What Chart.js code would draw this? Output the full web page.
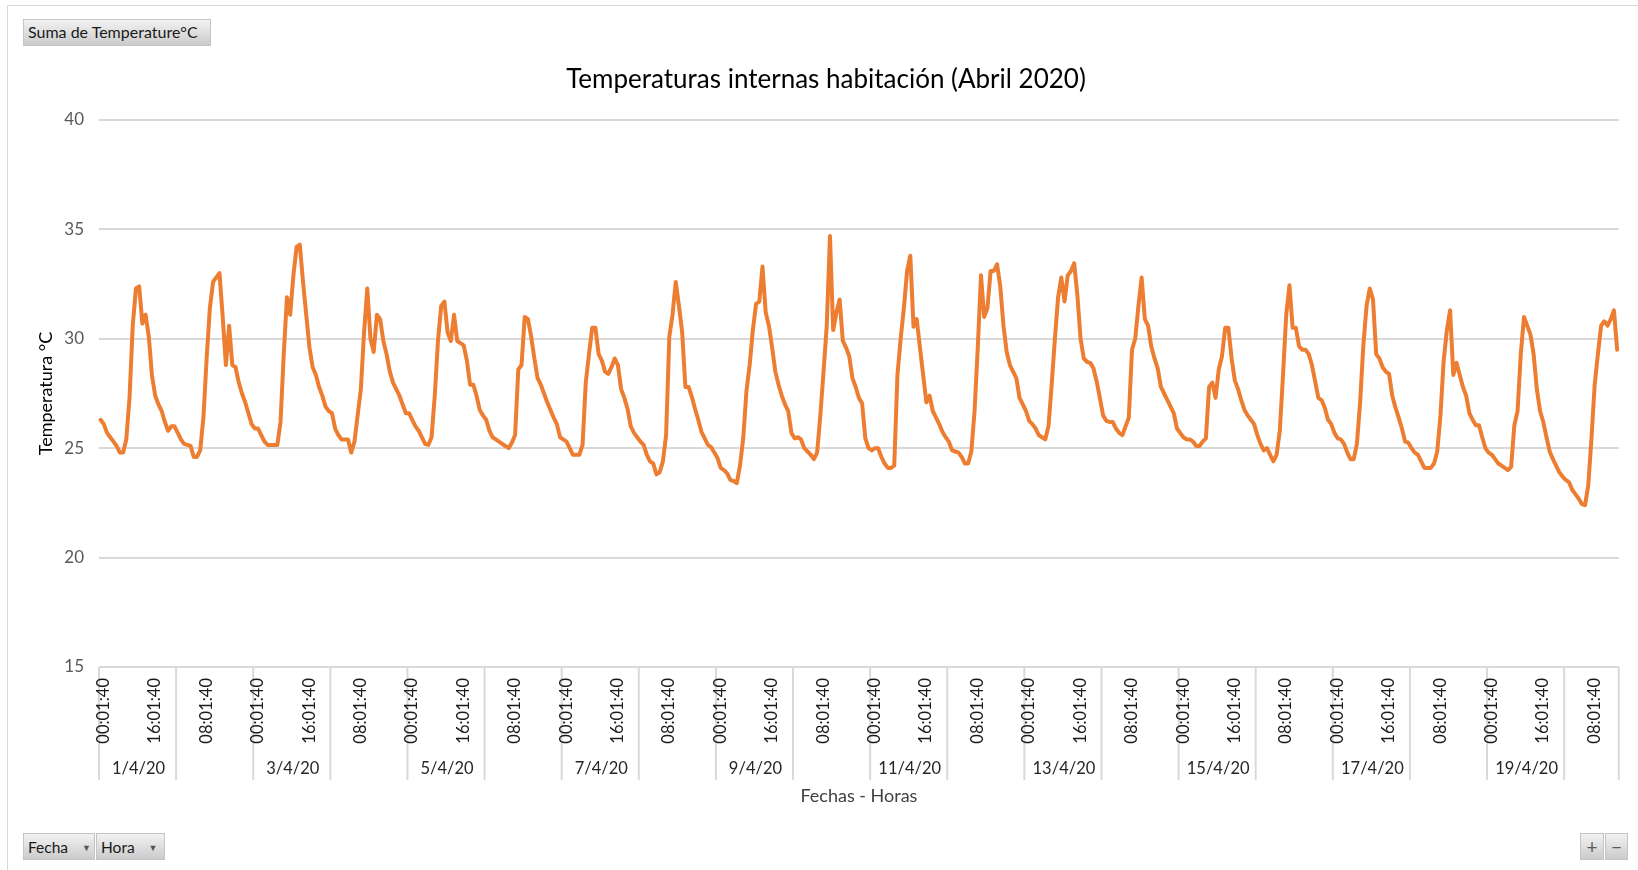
<!DOCTYPE html>
<html lang="es">
<head>
<meta charset="utf-8">
<title>Temperaturas internas habitación (Abril 2020)</title>
<script src="https://cdn.jsdelivr.net/npm/chart.js@4.4.0/dist/chart.umd.min.js"></script>
<style>
  html, body { margin: 0; padding: 0; background: #fff; overflow: hidden; }
  body { width: 1638px; height: 870px; position: relative; font-family: Lato, "Open Sans", sans-serif; }
  .marco { position: absolute; left: 7px; top: 5px; width: 1640px; height: 880px; border: 1px solid #d9d9d9; }
  canvas { display: block; }
  .boton { position: absolute; height: 27px; line-height: 26px; font-size: 15.5px; color: #1a1a1a;
           background: linear-gradient(#f2f2f2, #cbcbcb); border: 1px solid #c4c4c4;
           box-sizing: border-box; padding: 0 4px; white-space: nowrap; }
  .boton .flecha { font-size: 9px; color: #555; margin-left: 14px; vertical-align: 2px; }
  .zoom { text-align: center; padding: 0; font-size: 19px; color: #5a5a5a; }
</style>
</head>
<body>
<div class="marco"><canvas id="tempChart" width="1640" height="880"></canvas></div>
<div class="boton" style="left:23px; top:19px; width:188px; font-size:16px; line-height:23px;">Suma de Temperature°C</div>
<div class="boton" style="left:23px; top:833px; width:72px;">Fecha<span class="flecha">▼</span></div>
<div class="boton" style="left:96px; top:833px; width:69px;">Hora<span class="flecha">▼</span></div>
<div class="boton zoom" style="left:1580px; top:833px; width:24px;">+</div>
<div class="boton zoom" style="left:1605px; top:833px; width:23px;">−</div>

<script>
// Fechas de la tabla dinámica (una lectura por hora)
const fechas = ['1/4/20', '2/4/20', '3/4/20', '4/4/20', '5/4/20', '6/4/20', '7/4/20', '8/4/20', '9/4/20', '10/4/20',
                '11/4/20', '12/4/20', '13/4/20', '14/4/20', '15/4/20', '16/4/20', '17/4/20', '18/4/20', '19/4/20', '20/4/20'];

const horas = ['00:01:40', '01:01:40', '02:01:40', '03:01:40', '04:01:40', '05:01:40', '06:01:40', '07:01:40',
               '08:01:40', '09:01:40', '10:01:40', '11:01:40', '12:01:40', '13:01:40', '14:01:40', '15:01:40',
               '16:01:40', '17:01:40', '18:01:40', '19:01:40', '20:01:40', '21:01:40', '22:01:40', '23:01:40'];

// Temperatura (°C), 24 lecturas por día; el 20/4 termina a las 16:01:40
const temperaturas = [
  26.3, 26.1, 25.7, 25.5, 25.3, 25.1, 24.8, 24.8, 25.4, 27.3, 30.6, 32.3, 32.4, 30.7, 31.1, 30.1, 28.3, 27.4, 27.0, 26.7, 26.2, 25.8, 26.0, 26.0,
  25.7, 25.4, 25.2, 25.15, 25.1, 24.6, 24.6, 24.9, 26.4, 29.1, 31.4, 32.6, 32.8, 33.0, 31.0, 28.8, 30.6, 28.8, 28.7, 28.0, 27.5, 27.1, 26.6, 26.1,
  25.9, 25.9, 25.6, 25.3, 25.15, 25.15, 25.15, 25.15, 26.2, 29.3, 31.9, 31.1, 32.9, 34.2, 34.3, 32.6, 31.1, 29.6, 28.7, 28.35, 27.8, 27.4, 26.9, 26.7,
  26.6, 25.9, 25.6, 25.4, 25.4, 25.4, 24.8, 25.3, 26.5, 27.7, 30.3, 32.3, 30.0, 29.4, 31.1, 30.9, 29.9, 29.3, 28.5, 28.0, 27.7, 27.4, 27.0, 26.6,
  26.6, 26.3, 26.0, 25.8, 25.5, 25.2, 25.15, 25.5, 27.4, 29.9, 31.5, 31.7, 30.3, 29.9, 31.1, 29.9, 29.8, 29.7, 29.0, 27.9, 27.9, 27.4, 26.75, 26.5,
  26.3, 25.8, 25.5, 25.4, 25.3, 25.2, 25.1, 25.0, 25.25, 25.6, 28.6, 28.8, 31.0, 30.9, 30.1, 29.1, 28.2, 27.9, 27.5, 27.1, 26.75, 26.4, 26.1, 25.5,
  25.4, 25.3, 25.0, 24.7, 24.7, 24.7, 25.15, 28.0, 29.3, 30.5, 30.5, 29.3, 29.0, 28.5, 28.4, 28.7, 29.1, 28.8, 27.7, 27.3, 26.8, 26.0, 25.7, 25.5,
  25.3, 25.15, 24.7, 24.4, 24.3, 23.8, 23.9, 24.4, 25.6, 30.1, 31.1, 32.6, 31.5, 30.3, 27.8, 27.8, 27.35, 26.8, 26.3, 25.75, 25.45, 25.15, 25.05, 24.8,
  24.55, 24.1, 24.0, 23.85, 23.55, 23.5, 23.4, 24.2, 25.45, 27.6, 28.8, 30.4, 31.6, 31.7, 33.3, 31.2, 30.6, 29.6, 28.5, 27.9, 27.4, 27.0, 26.7, 25.7,
  25.45, 25.5, 25.4, 25.0, 24.85, 24.7, 24.5, 24.8, 26.5, 28.5, 30.6, 34.7, 30.4, 31.2, 31.8, 29.9, 29.6, 29.2, 28.2, 27.8, 27.3, 27.05, 25.45, 25.0,
  24.9, 25.0, 25.0, 24.6, 24.3, 24.1, 24.1, 24.2, 28.35, 30.0, 31.4, 33.1, 33.8, 30.55, 30.9, 29.6, 28.35, 27.1, 27.4, 26.7, 26.4, 26.1, 25.75, 25.5,
  25.3, 24.9, 24.85, 24.8, 24.6, 24.3, 24.3, 24.85, 26.7, 29.6, 32.9, 31.0, 31.4, 33.1, 33.1, 33.4, 32.4, 30.6, 29.4, 28.8, 28.5, 28.2, 27.3, 27.0,
  26.7, 26.25, 26.1, 25.9, 25.6, 25.5, 25.4, 26.0, 27.9, 30.0, 31.9, 32.8, 31.7, 32.9, 33.1, 33.45, 32.0, 30.0, 29.1, 28.95, 28.9, 28.65, 28.05, 27.3,
  26.5, 26.25, 26.2, 26.2, 25.9, 25.7, 25.6, 26.0, 26.4, 29.5, 30.0, 31.5, 32.8, 30.9, 30.6, 29.65, 29.1, 28.65, 27.8, 27.5, 27.2, 26.9, 26.6, 25.9,
  25.7, 25.5, 25.4, 25.4, 25.3, 25.1, 25.1, 25.3, 25.45, 27.8, 28.0, 27.3, 28.6, 29.2, 30.5, 30.5, 29.1, 28.1, 27.7, 27.2, 26.75, 26.5, 26.3, 26.1,
  25.6, 25.2, 24.9, 25.0, 24.7, 24.4, 24.7, 25.8, 28.35, 31.1, 32.45, 30.5, 30.5, 29.65, 29.5, 29.5, 29.3, 28.8, 28.05, 27.3, 27.2, 26.85, 26.3, 26.1,
  25.7, 25.45, 25.4, 25.2, 24.8, 24.5, 24.5, 25.2, 27.1, 29.7, 31.5, 32.3, 31.8, 29.3, 29.1, 28.7, 28.5, 28.4, 27.4, 26.85, 26.4, 25.9, 25.3, 25.25,
  25.0, 24.8, 24.7, 24.4, 24.1, 24.1, 24.1, 24.3, 24.85, 26.5, 29.0, 30.4, 31.3, 28.35, 28.9, 28.35, 27.8, 27.4, 26.6, 26.3, 26.05, 26.05, 25.5, 25.0,
  24.8, 24.7, 24.5, 24.3, 24.2, 24.1, 24.0, 24.15, 26.05, 26.7, 29.3, 31.0, 30.6, 30.2, 29.3, 27.7, 26.7, 26.2, 25.5, 24.85, 24.5, 24.2, 23.9, 23.7,
  23.55, 23.45, 23.1, 22.9, 22.7, 22.45, 22.4, 23.3, 25.45, 27.9, 29.3, 30.6, 30.8, 30.6, 30.9, 31.3, 29.5
];

const ticksY = [15, 20, 25, 30, 35, 40];

const fuente = 'Lato';
const etiquetas = temperaturas.map((t, i) => horas[i % 24]);

// Segundo nivel del eje X: separadores de día y fechas (una sí, una no).
// Se dibuja antes que las escalas para que las horas queden encima de las líneas.
const nivelFechas = {
  id: 'nivelFechas',
  beforeDraw(chart) {
    const { ctx, chartArea } = chart;
    const x = chart.scales.x;
    const mitad = (x.getPixelForValue(1) - x.getPixelForValue(0)) / 2;
    const yFin = chartArea.bottom + 113;
    ctx.save();
    ctx.strokeStyle = '#d9d9d9';
    ctx.lineWidth = 2;
    ctx.fillStyle = '#262626';
    ctx.font = '16.5px ' + fuente;
    ctx.textAlign = 'center';
    ctx.textBaseline = 'middle';
    fechas.forEach((f, d) => {
      const ini = d * 24;
      const fin = Math.min(ini + 24, temperaturas.length) - 1;
      const xIni = x.getPixelForValue(ini) - mitad;
      const xFin = x.getPixelForValue(fin) + mitad;
      ctx.beginPath();
      ctx.moveTo(xIni, chartArea.bottom);
      ctx.lineTo(xIni, yFin);
      if (d === fechas.length - 1) {
        ctx.moveTo(xFin, chartArea.bottom);
        ctx.lineTo(xFin, yFin);
      }
      ctx.stroke();
      if (d % 2 === 0) {
        ctx.fillText(f, (xIni + xFin) / 2 + 1, chartArea.bottom + 102);
      }
    });
    ctx.restore();
  }
};

const ctx = document.getElementById('tempChart').getContext('2d');
new Chart(ctx, {
  type: 'line',
  data: {
    labels: etiquetas,
    datasets: [{
      label: 'Suma de Temperature°C',
      data: temperaturas,
      borderColor: '#ED7D31',
      borderWidth: 4,
      borderJoinStyle: 'round',
      borderCapStyle: 'round',
      pointRadius: 0,
      tension: 0,
      fill: false
    }]
  },
  options: {
    responsive: false,
    animation: false,
    layout: { padding: { left: 0, right: 4, top: 0, bottom: 0 } },
    plugins: {
      legend: { display: false },
      tooltip: { enabled: false },
      title: {
        display: true,
        text: 'Temperaturas internas habitación (Abril 2020)',
        color: '#000',
        font: { family: fuente, size: 26, weight: 'normal' },
        padding: { top: 58.4, bottom: 24.4 }
      }
    },
    scales: {
      x: {
        offset: true,
        grid: { display: false, drawTicks: false },
        border: { display: false },
        ticks: {
          autoSkip: false,
          minRotation: 90,
          maxRotation: 90,
          padding: 11,
          labelOffset: 3,
          color: '#1a1a1a',
          font: { family: fuente, size: 16.5 },
          callback: function (value, index) {
            return index % 16 === 0 ? this.getLabelForValue(value) : '';
          }
        },
        title: {
          display: true,
          text: 'Fechas - Horas',
          color: '#404040',
          font: { family: fuente, size: 18 },
          padding: { top: 0, bottom: 79.2 }
        },
        afterFit: (scale) => { scale.height = 219; }
      },
      y: {
        min: 15,
        max: 40,
        afterBuildTicks: (scale) => { scale.ticks = ticksY.map(v => ({ value: v })); },
        grid: { color: '#d9d9d9', lineWidth: 2, drawTicks: false },
        border: { display: false },
        ticks: {
          padding: 15,
          color: '#595959',
          font: { family: fuente, size: 17 }
        },
        title: {
          display: true,
          text: 'Temperatura °C',
          color: '#000',
          font: { family: fuente, size: 18 },
          padding: { top: 27.2, bottom: 0 }
        },
        afterFit: (scale) => { scale.width = 91; }
      },
      // margen derecho del área de trazado
      margenDerecho: {
        type: 'linear',
        position: 'right',
        grid: { display: false, drawTicks: false },
        border: { display: false },
        ticks: { display: false },
        afterFit: (scale) => { scale.width = 19; }
      }
    }
  },
  plugins: [nivelFechas]
});
</script>
</body>
</html>
